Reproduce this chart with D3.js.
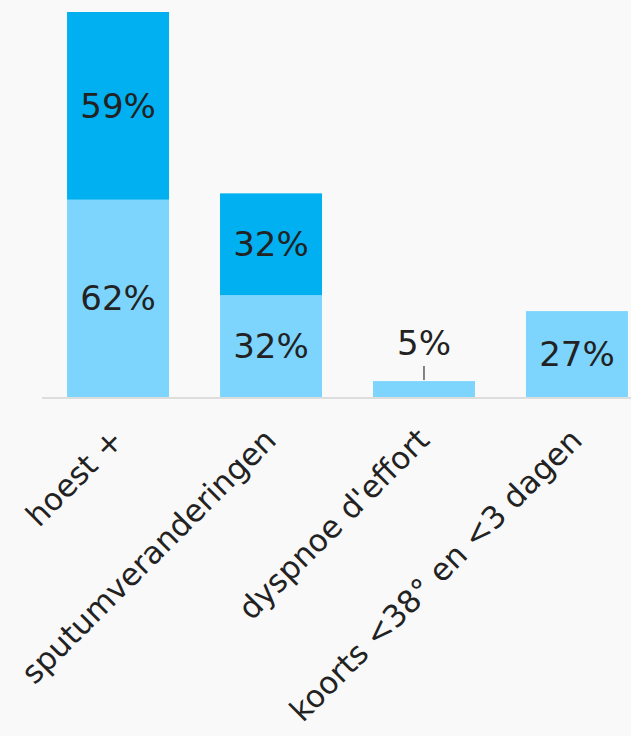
<!DOCTYPE html>
<html>
<head>
<meta charset="utf-8">
<script src="https://cdn.jsdelivr.net/npm/d3@7"></script>
<style>
  html, body { margin: 0; padding: 0; background: #f9f9f9; }
  svg { display: block; font-family: "DejaVu Sans", sans-serif; }
</style>
</head>
<body>
<svg id="chart" width="631" height="736"></svg>
<script>
// Categories and the two stacked series (percent)
const categories = ["hoest +", "sputumveranderingen", "dyspnoe d'effort", "koorts <38° en <3 dagen"];
const baseValues = [62, 32, 5, 27];   // lower segment
const topValues  = [59, 32, 0, 0];    // upper segment

const colors = { base: "#7dd5fd", top: "#00b0f0" };

const svg = d3.select("#chart");
const W = 631, baseline = 397, topY = 12;

const x = d3.scaleBand()
  .domain(categories)
  .range([64, W])
  .paddingInner(1 / 3)
  .paddingOuter(0.02);

const totals = categories.map((_, i) => baseValues[i] + topValues[i]);
const y = d3.scaleLinear()
  .domain([0, d3.max(totals)])
  .range([baseline, topY]);

const rows = categories.map((c, i) => ({ c, base: baseValues[i], top: topValues[i] }));
const stack = d3.stack().keys(["base", "top"])(rows);

const layers = svg.append("g").selectAll("g")
  .data(stack)
  .join("g")
  .attr("fill", d => colors[d.key]);

layers.selectAll("rect")
  .data(d => d.filter(s => s[1] - s[0] > 0))
  .join("rect")
  .attr("x", d => x(d.data.c))
  .attr("width", x.bandwidth())
  .attr("y", d => y(d[1]))
  .attr("height", d => y(d[0]) - y(d[1]));

// axis line
svg.append("line")
  .attr("x1", 42).attr("x2", W)
  .attr("y1", baseline + 1).attr("y2", baseline + 1)
  .attr("stroke", "#dddddd").attr("stroke-width", 2);

// value labels
const fs = 34, axisFs = 31;
stack.forEach(layer => {
  layer.forEach(s => {
    const v = s[1] - s[0];
    if (v <= 0) return;
    const cx = x(s.data.c) + x.bandwidth() / 2;
    const h = y(s[0]) - y(s[1]);
    if (h > fs + 6) {
      svg.append("text")
        .attr("x", cx).attr("y", (y(s[0]) + y(s[1])) / 2)
        .attr("text-anchor", "middle").attr("dy", "0.35em")
        .attr("font-size", fs).attr("fill", "#222")
        .text(v + "%");
    } else {
      // small bar: label above with a short leader line
      const top = y(s[1]);
      svg.append("line")
        .attr("x1", cx).attr("x2", cx)
        .attr("y1", top - 1).attr("y2", top - 15)
        .attr("stroke", "#333").attr("stroke-width", 1.2);
      svg.append("text")
        .attr("x", cx).attr("y", top - 38)
        .attr("text-anchor", "middle").attr("dy", "0.35em")
        .attr("font-size", fs).attr("fill", "#222")
        .text(v + "%");
    }
  });
});

// rotated category labels
svg.append("g").selectAll("text")
  .data(categories)
  .join("text")
  .attr("text-anchor", "end")
  .attr("font-size", axisFs)
  .attr("fill", "#222")
  .attr("transform", d => `translate(${x(d) + x.bandwidth() / 2 + 7},${baseline + 45}) rotate(-45)`)
  .text(d => d);
</script>
</body>
</html>
